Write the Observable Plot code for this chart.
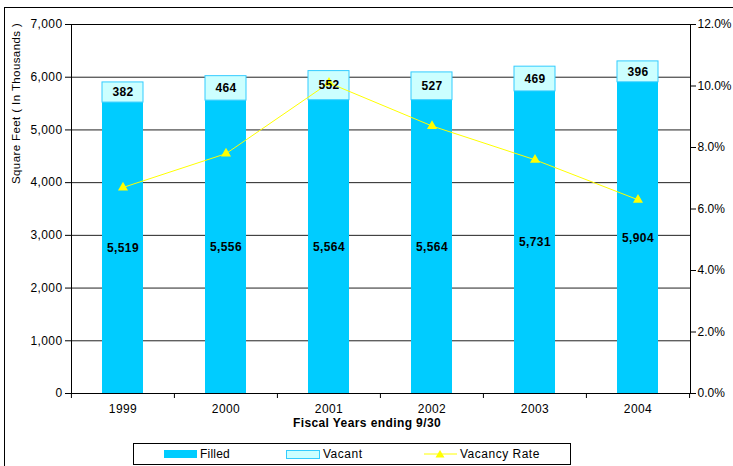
<!DOCTYPE html>
<html>
<head>
<meta charset="utf-8">
<script src="https://cdn.jsdelivr.net/npm/d3@7"></script>
<script src="https://cdn.jsdelivr.net/npm/@observablehq/plot@0.6"></script>
<style>
  html, body { margin: 0; padding: 0; background: #fff; overflow: hidden; }
  body { width: 733px; height: 466px; position: relative; font-family: "Liberation Sans", Arial, sans-serif; }
  #frame { position: absolute; left: 4px; top: 7px; width: 800px; height: 500px; border: 1px solid #000; box-sizing: border-box; pointer-events: none; }
  #chart { position: absolute; left: 0; top: 0; }
  #legend { position: absolute; left: 133px; top: 443px; width: 438px; height: 22px; border: 1px solid #000; box-sizing: border-box; background: #fff; font-size: 12px; color: #000; letter-spacing: 0.5px; }
  .item { position: absolute; top: 3px; height: 14px; display: flex; align-items: center; }
  .item span { margin-left: 3px; }
  svg text { letter-spacing: 0.4px; }
  svg .raxis text { letter-spacing: 0; }
</style>
</head>
<body>
<div id="chart"></div>
<div id="frame"></div>
<div id="legend">
  <div class="item" style="left:30px"><svg width="33" height="8"><rect x="0" y="0" width="33" height="8" fill="#00ccff"/></svg><span style="letter-spacing:0.2px">Filled</span></div>
  <div class="item" style="left:152px"><svg width="34" height="9"><rect x="0.5" y="0.5" width="33" height="8" fill="#ccffff" stroke="#33ccff"/></svg><span>Vacant</span></div>
  <div class="item" style="left:290px"><svg width="33" height="10"><line x1="0" y1="5" x2="33" y2="5" stroke="#ffff00" stroke-width="1"/><path d="M16,1 L20.5,8.5 L11.5,8.5 Z" fill="#ffff00"/></svg><span>Vacancy Rate</span></div>
</div>
<script>
const years = ["1999", "2000", "2001", "2002", "2003", "2004"];
const filled = [5519, 5556, 5564, 5564, 5731, 5904];
const vacant = [382, 464, 552, 527, 469, 396];
const vacancyRate = [6.7, 7.8, 10.1, 8.7, 7.6, 6.3]; // percent
const leftTicks = [0, 1000, 2000, 3000, 4000, 5000, 6000, 7000];
const rightTicks = [0, 2, 4, 6, 8, 10, 12]; // percent

const yMax = leftTicks[leftTicks.length - 1];
const rateMax = rightTicks[rightTicks.length - 1];
const toY = r => r / rateMax * yMax;

const rows = years.map((year, i) => ({
  year,
  filled: filled[i],
  vacant: vacant[i],
  total: filled[i] + vacant[i],
  filledMid: filled[i] / 2,
  vacantMid: filled[i] + vacant[i] / 2,
  rateY: toY(vacancyRate[i])
}));

const W = 733, H = 466;
const mL = 71, mR = 43, mT = 24, mB = 73;
const padIn = 0.6;
const step = (W - mL - mR) / years.length;
const font = "'Liberation Sans', Arial, sans-serif";

const chart = Plot.plot({
  width: W,
  height: H,
  marginLeft: mL,
  marginRight: mR,
  marginTop: mT,
  marginBottom: mB,
  style: { fontFamily: font, fontSize: "12px", color: "#000", background: "transparent" },
  x: { type: "band", domain: years, paddingInner: padIn, paddingOuter: padIn / 2 },
  y: { domain: [0, yMax] },
  marks: [
    Plot.ruleY(leftTicks, { stroke: "#222", strokeWidth: 1 }),
    Plot.barY(rows, { x: "year", y1: 0, y2: "filled", fill: "#00ccff" }),
    Plot.barY(rows, { x: "year", y1: "filled", y2: "total", fill: "#ccffff", stroke: "#33ccff", strokeWidth: 1 }),
    Plot.frame({ stroke: "#000" }),
    Plot.line(rows, { x: "year", y: "rateY", stroke: "#ffff00", strokeWidth: 1 }),
    Plot.dot(rows, { x: "year", y: "rateY", symbol: "triangle2", r: 4.8, fill: "#ffff00", stroke: "none" }),
    Plot.text(rows, { x: "year", y: "filledMid", text: d => d3.format(",")(d.filled), fontWeight: "bold", fontSize: 12, fill: "#000" }),
    Plot.text(rows, { x: "year", y: "vacantMid", text: d => d3.format(",")(d.vacant), fontWeight: "bold", fontSize: 12, fill: "#000" }),
    Plot.axisY(leftTicks, { anchor: "left", tickSize: 6, tickPadding: 3, tickFormat: d3.format(","), label: null }),
    Plot.axisY(rightTicks.map(toY), { anchor: "right", tickSize: 5, tickPadding: 2, tickFormat: d => (d / yMax * rateMax).toFixed(1) + "%", label: null, className: "raxis" }),
    Plot.axisX({ anchor: "bottom", tickSize: 0, tickPadding: 11, label: null }),
    Plot.axisX(years, { anchor: "bottom", tickSize: 5, tickFormat: () => "", dx: -step / 2, label: null }),
    Plot.axisX([years[years.length - 1]], { anchor: "bottom", tickSize: 5, tickFormat: () => "", dx: step / 2, label: null }),
    Plot.text(["Square Feet ( In Thousands )"], { frameAnchor: "left", text: d => d, rotate: -90, dx: -55, dy: -25, fontSize: 11.5, fill: "#000" }),
    Plot.text(["Fiscal Years ending 9/30"], { frameAnchor: "bottom", text: d => d, dx: -14, dy: 33, fontSize: 12, fontWeight: "bold", fill: "#000", style: "letter-spacing:0.6px" })
  ]
});
document.getElementById("chart").appendChild(chart);
</script>
</body>
</html>
